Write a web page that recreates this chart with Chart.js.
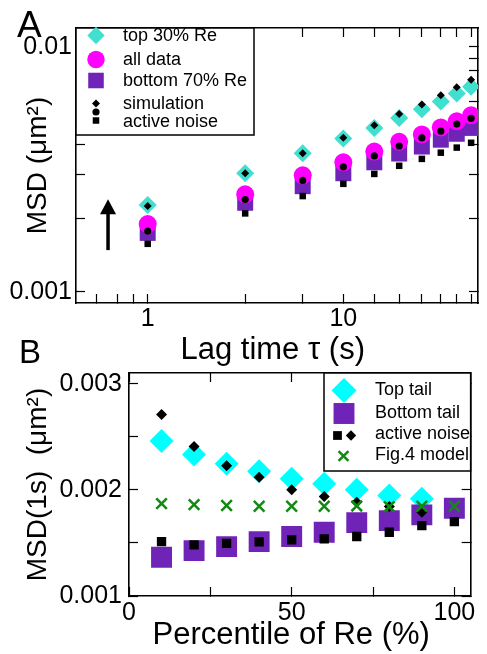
<!DOCTYPE html>
<html>
<head>
<meta charset="utf-8">
<script src="https://cdn.jsdelivr.net/npm/chart.js@4.4.1/dist/chart.umd.min.js"></script>
<style>
    body { margin: 0; background: #fff; }
    #wrap { position: relative; width: 487px; height: 654px; }
    canvas { position: absolute; left: 0; }
    #chartA { top: 0; }
    #chartB { top: 330px; }
</style>
</head>
<body>
<div id="wrap">
    <canvas id="chartA" width="487" height="370"></canvas>
    <canvas id="chartB" width="487" height="324"></canvas>
</div>
<script>
// Panel A: MSD vs lag time
const LAG = [1, 3.15, 6.2, 10, 14.4, 19.3, 25.2, 31.5, 38, 45];
const TOP30 = [0.00226, 0.00305, 0.00368, 0.00423, 0.00467, 0.00513, 0.00556, 0.00598, 0.00646, 0.00688];
const ALL_DATA = [0.00189, 0.0025, 0.00299, 0.00338, 0.00374, 0.0041, 0.00439, 0.00469, 0.00497, 0.00526];
const BOTTOM70 = [0.00174, 0.00231, 0.0027, 0.00305, 0.00338, 0.00367, 0.00392, 0.00418, 0.00442, 0.00467];
const SIM_TOP = [0.00224, 0.00305, 0.00368, 0.00426, 0.00479, 0.00532, 0.00582, 0.00635, 0.00684, 0.00734];
const SIM_ALL = [0.00177, 0.00238, 0.00285, 0.00324, 0.00359, 0.00394, 0.00425, 0.00453, 0.00484, 0.00511];
const SIM_BOTTOM = [0.00157, 0.00209, 0.00246, 0.00276, 0.00303, 0.00327, 0.00349, 0.0037, 0.00388, 0.00406];
const LAG_TICKS = [0.55, 0.7, 0.85, 1, 3.15, 6.2, 10, 14.4, 19.3, 25.2, 31.5, 38, 45];
const LAG_LABELS = [1, 10];
const MSD_TICKS_A = [0.001, 0.002, 0.003, 0.004, 0.006, 0.007, 0.008, 0.009, 0.01];
const MSD_LABELS_A = [0.001, 0.01];

// Panel B: MSD(1s) vs percentile of Re
const PERC = [10, 20, 30, 40, 50, 60, 70, 80, 90, 100];
const TOP_TAIL = [0.00246, 0.002333, 0.002245, 0.002175, 0.002104, 0.002057, 0.002, 0.001946, 0.001915];
const NOISE_TOP = [0.00271, 0.002408, 0.002226, 0.002119, 0.002, 0.001937, 0.001883, 0.001842, 0.001789];
const BOTTOM_TAIL = [0.001365, 0.001427, 0.001465, 0.001512, 0.00156, 0.0016, 0.001691, 0.00171, 0.001764, 0.001826];
const NOISE_BOTTOM = [0.001512, 0.001481, 0.001496, 0.00151, 0.001528, 0.001538, 0.00156, 0.0016, 0.001663, 0.001701];
const MODEL = [0.00187, 0.00186, 0.001852, 0.001845, 0.001845, 0.001845, 0.001848, 0.001842, 0.001845, 0.001845];
const PERC_TICKS = [0, 25, 50, 75, 100];
const PERC_LABELS = [0, 50, 100];
const MSD_TICKS_B = [0.001, 0.0015, 0.002, 0.0025, 0.003];
const MSD_LABELS_B = [0.001, 0.002, 0.003];

const FONT = "'Liberation Sans', Arial, Helvetica, sans-serif";
const TURQUOISE = "#40e0d0";
const MAGENTA = "#ff00ff";
const PURPLE = "#6f24b7";
const CYAN = "#00ffff";
const GREEN = "#118a11";

const tickFont = { family: FONT, size: 25 };
const xTitleFont = { family: FONT, size: 31 };
const yTitleFont = { family: FONT, size: 28 };

function fixedTicks(values) {
    return function (axis) {
        axis.ticks = values.map((v) => ({ value: v }));
    };
}

function labelsFor(shown) {
    return function (value) {
        return shown.includes(value) ? String(value) : "";
    };
}

function points(xs, ys) {
    return ys.map((y, i) => ({ x: xs[i], y: y }));
}

// un eje con marcas hacia dentro
function makeAxis(o) {
    const vertical = o.position === "left" || o.position === "right";
    const ax = {
        type: o.type,
        position: o.position,
        min: o.min,
        max: o.max,
        bounds: "data",
        afterBuildTicks: fixedTicks(o.ticks),
        afterFit: function (s) {
            if (vertical) s.width = o.size;
            else s.height = o.size;
        },
        ticks: {
            display: !!o.labels,
            callback: labelsFor(o.labels || []),
            font: tickFont,
            color: "#000",
            padding: o.padding || 0,
            autoSkip: false,
            maxRotation: 0,
        },
        grid: {
            drawOnChartArea: false,
            drawTicks: true,
            tickLength: -9,
            tickColor: "#000",
            tickWidth: 1.2,
        },
        border: { display: true, color: "#000", width: 1.6 },
    };
    if (o.title) {
        ax.title = {
            display: true,
            text: o.title,
            font: vertical ? yTitleFont : xTitleFont,
            color: "#000",
            padding: o.titlePadding,
        };
    }
    return ax;
}

function mark(ctx, style, x, y, r, color) {
    ctx.save();
    ctx.fillStyle = color;
    ctx.strokeStyle = color;
    ctx.beginPath();
    if (style === "circle") {
        ctx.arc(x, y, r, 0, Math.PI * 2);
    } else if (style === "rect") {
        const h = r * Math.SQRT1_2;
        ctx.rect(x - h, y - h, 2 * h, 2 * h);
    } else if (style === "rectRot") {
        ctx.moveTo(x - r, y);
        ctx.lineTo(x, y - r);
        ctx.lineTo(x + r, y);
        ctx.lineTo(x, y + r);
        ctx.closePath();
    }
    if (style === "crossRot") {
        const h = r * Math.SQRT1_2;
        ctx.lineWidth = 2.5;
        ctx.moveTo(x - h, y - h);
        ctx.lineTo(x + h, y + h);
        ctx.moveTo(x + h, y - h);
        ctx.lineTo(x - h, y + h);
        ctx.stroke();
    } else {
        ctx.fill();
    }
    ctx.restore();
}

function legendBox(ctx, x1, y1, x2, y2) {
    ctx.save();
    ctx.fillStyle = "#fff";
    ctx.fillRect(x1, y1, x2 - x1, y2 - y1);
    ctx.strokeStyle = "#000";
    ctx.lineWidth = 1.5;
    ctx.strokeRect(x1, y1, x2 - x1, y2 - y1);
    ctx.restore();
}

function legendText(ctx, text, x, y) {
    ctx.save();
    ctx.font = "18px " + FONT;
    ctx.fillStyle = "#000";
    ctx.textBaseline = "middle";
    ctx.fillText(text, x, y);
    ctx.restore();
}

function panelLetter(ctx, text, x, y, size) {
    ctx.save();
    ctx.font = size + "px " + FONT;
    ctx.fillStyle = "#000";
    ctx.textBaseline = "alphabetic";
    ctx.fillText(text, x, y);
    ctx.restore();
}

const decorA = {
    id: "decorA",
    afterDraw(chart) {
        const ctx = chart.ctx;
        const ca = chart.chartArea;
        const xs = chart.scales.x;
        const ys = chart.scales.y;

        // flecha
        const ax = xs.getPixelForValue(0.627);
        const yBase = ys.getPixelForValue(0.00148);
        const yTip = ys.getPixelForValue(0.00239);
        ctx.save();
        ctx.strokeStyle = "#000";
        ctx.fillStyle = "#000";
        ctx.lineWidth = 3.5;
        ctx.beginPath();
        ctx.moveTo(ax, yBase);
        ctx.lineTo(ax, yTip + 12);
        ctx.stroke();
        ctx.beginPath();
        ctx.moveTo(ax, yTip);
        ctx.lineTo(ax - 8, yTip + 15);
        ctx.lineTo(ax + 8, yTip + 15);
        ctx.closePath();
        ctx.fill();
        ctx.restore();

        // leyenda
        legendBox(ctx, ca.left, ca.top, 254, 135);
        mark(ctx, "rectRot", 96, 35.5, 8.7, TURQUOISE);
        mark(ctx, "circle", 96, 59.5, 8.7, MAGENTA);
        mark(ctx, "rect", 96, 80.5, 11, PURPLE);
        mark(ctx, "rectRot", 96, 103.5, 4, "#000");
        mark(ctx, "circle", 96, 112, 3.6, "#000");
        mark(ctx, "rect", 96, 120.5, 4.6, "#000");
        legendText(ctx, "top 30% Re", 123, 36);
        legendText(ctx, "all data", 123, 60);
        legendText(ctx, "bottom 70% Re", 123, 81);
        legendText(ctx, "simulation", 123, 104);
        legendText(ctx, "active noise", 123, 122);

        panelLetter(ctx, "A", 17, 37, 37);
    },
};

const decorB = {
    id: "decorB",
    afterDraw(chart) {
        const ctx = chart.ctx;
        const ca = chart.chartArea;
        legendBox(ctx, 324, ca.top, ca.right, 141);
        mark(ctx, "rectRot", 344, 60.5, 12.5, CYAN);
        mark(ctx, "rect", 344, 83.5, 14.8, PURPLE);
        mark(ctx, "rect", 337.5, 105.5, 6.2, "#000");
        mark(ctx, "rectRot", 351, 105.5, 5.2, "#000");
        mark(ctx, "crossRot", 343.5, 126, 7, GREEN);
        legendText(ctx, "Top tail", 375, 60);
        legendText(ctx, "Bottom tail", 375, 83);
        legendText(ctx, "active noise", 375, 104);
        legendText(ctx, "Fig.4 model", 375, 125);

        panelLetter(ctx, "B", 19, 33, 33);
    },
};

function scatterSet(label, data, style, radius, color, order, extra) {
    return Object.assign({
        label: label,
        data: data,
        pointStyle: style,
        pointRadius: radius,
        backgroundColor: color,
        borderColor: color,
        borderWidth: 0,
        order: order,
    }, extra || {});
}

const chartA = new Chart(document.getElementById("chartA").getContext("2d"), {
    type: "scatter",
    data: {
        datasets: [
            scatterSet("top 30% Re", points(LAG, TOP30), "rectRot", 9, TURQUOISE, 6),
            scatterSet("bottom 70% Re", points(LAG, BOTTOM70), "rect", 11.3, PURPLE, 5),
            scatterSet("all data", points(LAG, ALL_DATA), "circle", 9, MAGENTA, 4),
            scatterSet("simulation top", points(LAG, SIM_TOP), "rectRot", 4, "#000", 3),
            scatterSet("simulation all", points(LAG, SIM_ALL), "circle", 3.6, "#000", 2),
            scatterSet("simulation bottom", points(LAG, SIM_BOTTOM), "rect", 4.6, "#000", 1),
        ],
    },
    options: {
        responsive: false,
        animation: false,
        events: [],
        layout: { padding: { left: 0, right: 9, top: 25, bottom: 0 }, autoPadding: false },
        plugins: { legend: { display: false }, tooltip: { enabled: false } },
        scales: {
            x: makeAxis({ type: "logarithmic", position: "bottom", min: 0.43, max: 48.8, ticks: LAG_TICKS,
                labels: LAG_LABELS, size: 67, padding: 10, title: "Lag time τ (s) ", titlePadding: { top: 0, bottom: 1 } }),
            xt: makeAxis({ type: "logarithmic", position: "top", min: 0.43, max: 48.8, ticks: LAG_TICKS, size: 0 }),
            y: makeAxis({ type: "logarithmic", position: "left", min: 0.0009, max: 0.01195, ticks: MSD_TICKS_A,
                labels: MSD_LABELS_A, size: 76, padding: 13, title: "MSD (μm²)", titlePadding: { top: 21, bottom: 0 } }),
            yr: makeAxis({ type: "logarithmic", position: "right", min: 0.0009, max: 0.01195, ticks: MSD_TICKS_A, size: 0 }),
        },
    },
    plugins: [decorA],
});

const chartB = new Chart(document.getElementById("chartB").getContext("2d"), {
    type: "scatter",
    data: {
        datasets: [
            scatterSet("Top tail", points(PERC, TOP_TAIL), "rectRot", 12, CYAN, 6),
            scatterSet("Bottom tail", points(PERC, BOTTOM_TAIL), "rect", 14.8, PURPLE, 5),
            scatterSet("active noise top", points(PERC, NOISE_TOP), "rectRot", 5.5, "#000", 3),
            scatterSet("active noise bottom", points(PERC, NOISE_BOTTOM), "rect", 6.6, "#000", 2),
            scatterSet("Fig.4 model", points(PERC, MODEL), "crossRot", 7.5, GREEN, 1, { borderWidth: 2.5 }),
        ],
    },
    options: {
        responsive: false,
        animation: false,
        events: [],
        layout: { padding: { left: 0, right: 10, top: 43, bottom: 0 }, autoPadding: false },
        plugins: { legend: { display: false }, tooltip: { enabled: false } },
        scales: {
            x: makeAxis({ type: "linear", position: "bottom", min: 0, max: 105, ticks: PERC_TICKS,
                labels: PERC_LABELS, size: 58, padding: 11, title: "Percentile of Re (%)  ", titlePadding: { top: 0, bottom: 0 } }),
            xt: makeAxis({ type: "linear", position: "top", min: 0, max: 105, ticks: PERC_TICKS, size: 0 }),
            y: makeAxis({ type: "linear", position: "left", min: 0.001, max: 0.0031, ticks: MSD_TICKS_B,
                labels: MSD_LABELS_B, size: 129, padding: 16, title: "MSD(1s)  (μm²)", titlePadding: { top: 21, bottom: 0 } }),
            yr: makeAxis({ type: "linear", position: "right", min: 0.001, max: 0.0031, ticks: MSD_TICKS_B, size: 0 }),
        },
    },
    plugins: [decorB],
});
</script>
</body>
</html>
